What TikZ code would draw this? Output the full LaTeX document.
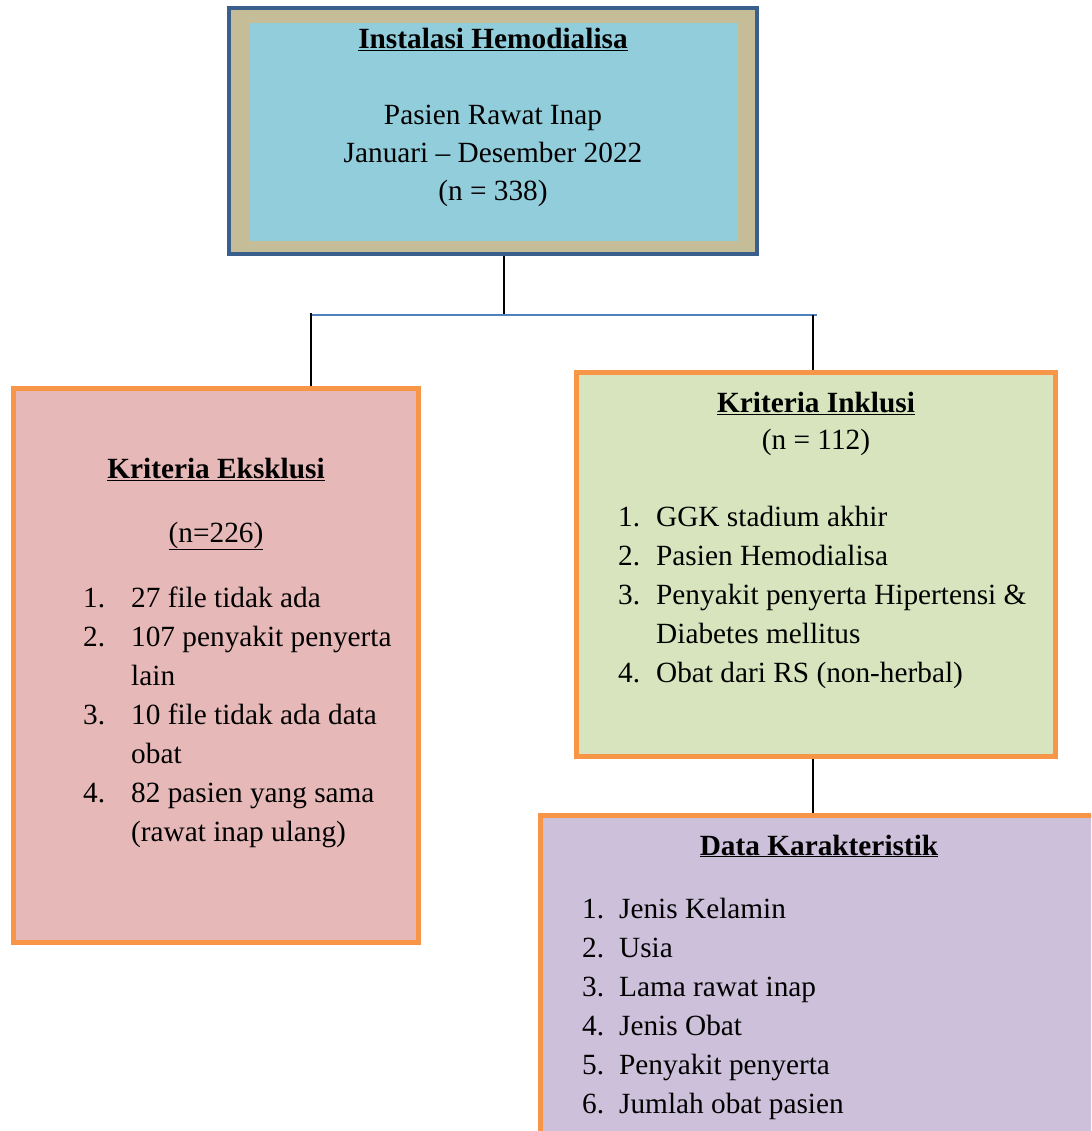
\documentclass[tikz,border=0pt]{standalone}
\usepackage{fontspec}
\setmainfont{Liberation Serif}
\usepackage{array}
\usepackage{tikz}
\usetikzlibrary{calc, positioning}
\definecolor{hnavy}{HTML}{3A5F8D}
\definecolor{htan}{HTML}{C4BD97}
\definecolor{hsky}{HTML}{92CDDC}
\definecolor{korange}{HTML}{F79646}
\definecolor{kpink}{HTML}{E6B8B7}
\definecolor{kgreen}{HTML}{D7E4BD}
\definecolor{kpurple}{HTML}{CCC0DA}
\definecolor{barblue}{HTML}{4F81BD}
\newcommand{\boxfont}{\fontsize{29.3}{39}\selectfont}
\tikzset{
  hemobox/.style  = {draw=hnavy, fill=htan, line width=4pt, inner sep=0pt},
  hemoin/.style   = {fill=hsky, inner sep=0pt},
  kritbox/.style  = {draw=korange, line width=5pt, inner sep=0pt},
  stem/.style     = {draw=black, line width=1.6pt},
  barline/.style  = {draw=barblue, line width=1.6pt},
  ttl/.style      = {font=\boxfont\bfseries, inner sep=0pt, anchor=base},
  txt/.style      = {font=\boxfont, inner sep=0pt, anchor=base},
  lst/.style      = {font=\boxfont, inner sep=0pt, anchor=base west},
}
\newcommand{\ulbf}[1]{\underline{#1}}

\begin{document}
\begin{tikzpicture}[x=1pt, y=-1pt]
  \useasboundingbox (0,0) rectangle (1091,1131);
  \clip (0,0) rectangle (1091,1131);
  % boxes
  \node[hemobox, minimum width=528, minimum height=246] (hemo) at (493,131) {};
  \node[hemoin, minimum width=488, minimum height=218] (hemoinner) at (493,132) {};
  \node[kritbox, fill=kpink, minimum width=405, minimum height=554] (eks) at (215.5,665) {};
  \node[kritbox, fill=kgreen, minimum width=479, minimum height=384] (inkl) at (815.5,564) {};
  \node[kritbox, fill=kpurple, minimum width=580, minimum height=345] (data) at (830,987.5) {};
  % connectors
  \coordinate (barM) at (504,315);
  \coordinate (barL) at (311,315);
  \coordinate (barR) at (813,315);
  \draw[stem] (barM |- hemo.south) -- (barM);
  \draw[barline] (barL) -- ([xshift=4pt]barR);
  \draw[stem] ([yshift=2pt]barL) -- (barL |- eks.north);
  \draw[stem] (barR) -- (barR |- inkl.north);
  \draw[stem] (inkl.south -| barR) -- (data.north -| barR);
  % top box text
  \node[ttl] (hemottl) at (493,49) {\ulbf{Instalasi Hemodialisa}};
  \node[txt] (hemol1) at (493,125) {Pasien Rawat Inap};
  \node[txt] (hemol2) at (493,163) {Januari -- Desember 2022};
  \node[txt] (hemol3) at (493,201) {(n = 338)};
  % eksklusi
  \node[ttl] (eksttl) at (216,478) {\ulbf{Kriteria Eksklusi}};
  \node[txt] (eksn) at (216,542) {\ulbf{(n=226)}};
  \node[lst] (ekslist) at (83,607) {%
    \begin{tabular}[t]{@{}p{48pt}@{}l@{}}
      1. & 27 file tidak ada\\
      2. & 107 penyakit penyerta\\
         & lain\\
      3. & 10 file tidak ada data\\
         & obat\\
      4. & 82 pasien yang sama\\
         & (rawat inap ulang)
    \end{tabular}};
  % inklusi
  \node[ttl] (inklttl) at (816,412) {\ulbf{Kriteria Inklusi}};
  \node[txt] (inkln) at (816,449) {(n = 112)};
  \node[lst] (inkllist) at (618,526) {%
    \begin{tabular}[t]{@{}p{38pt}@{}l@{}}
      1. & GGK stadium akhir\\
      2. & Pasien Hemodialisa\\
      3. & Penyakit penyerta Hipertensi \&\\
         & Diabetes mellitus\\
      4. & Obat dari RS (non-herbal)
    \end{tabular}};
  % data karakteristik
  \node[ttl] (datattl) at (819,855) {\ulbf{Data Karakteristik}};
  \node[lst] (datalist) at (582,918) {%
    \begin{tabular}[t]{@{}p{37pt}@{}l@{}}
      1. & Jenis Kelamin\\
      2. & Usia\\
      3. & Lama rawat inap\\
      4. & Jenis Obat\\
      5. & Penyakit penyerta\\
      6. & Jumlah obat pasien
    \end{tabular}};
\end{tikzpicture}
\end{document}
